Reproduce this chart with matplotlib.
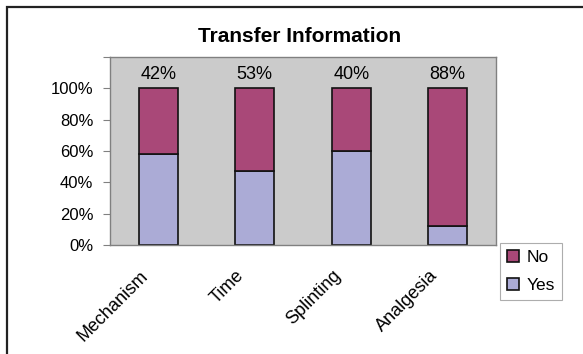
#!/usr/bin/env python3
"""Transfer Information: 100% stacked Yes/No bars per item."""
import numpy as np
import matplotlib
matplotlib.use("Agg")
import matplotlib.pyplot as plt
from matplotlib.patches import Rectangle
from matplotlib.transforms import ScaledTranslation

CATS = ["Mechanism", "Time", "Splinting", "Analgesia"]
YES = [58, 47, 60, 12]
NO = [42, 53, 40, 88]
NO_LABELS = ["42%", "53%", "40%", "88%"]
YTICKS = [0, 20, 40, 60, 80, 100, 120]
YTICK_LABELS = ["0%", "20%", "40%", "60%", "80%", "100%", ""]

plt.rcParams["font.family"] = ["Liberation Sans", "DejaVu Sans"]

fig = plt.figure(figsize=(5.83, 3.54), dpi=100)
ax = fig.add_axes([110/583, 1 - 245/354, 386/583, 188/354])

# outer chart frame (cut off on right/bottom like the source)
fig.patches.append(Rectangle((7/583, -0.05), 1.2, 1 - 7/354 + 0.05,
                             transform=fig.transFigure, fill=False,
                             ec="#222222", lw=1.6))

x = np.arange(len(CATS))
w = 0.4
ax.bar(x, YES, w, color="#ababd6", edgecolor="#111111", lw=1.2, label="Yes")
ax.bar(x, NO, w, bottom=YES, color="#a94878", edgecolor="#111111", lw=1.2, label="No")
for xi, y, n, lab in zip(x, YES, NO, NO_LABELS):
    ax.annotate(lab, (xi, y + n), xytext=(0, 4), textcoords="offset points",
                ha="center", va="bottom", fontsize=13)

ax.set_facecolor("#cbcbcb")
ax.set_xlim(-0.5, len(CATS) - 0.5)
ax.set_ylim(0, 120)
ax.set_yticks(YTICKS)
ax.set_yticklabels(YTICK_LABELS, fontsize=12)
ax.set_xticks(x)
ax.set_xticklabels(CATS, rotation=45, ha="right", fontsize=13)
ax.tick_params(axis="x", length=0, pad=16)
ax.tick_params(axis="y", length=5, color="#808080", pad=7)
for lbl in ax.get_xticklabels():
    lbl.set_transform(lbl.get_transform() + ScaledTranslation(-0.07, 0, fig.dpi_scale_trans))
for s in ax.spines.values():
    s.set_color("#808080")
    s.set_linewidth(1.0)

fig.text(300/583, 1 - 36/354, "Transfer Information", fontsize=15, fontweight="bold",
         ha="center", va="center")

h, l = ax.get_legend_handles_labels()
leg = fig.legend(h[::-1], l[::-1], loc="upper left", bbox_to_anchor=(500/583, 1 - 243/354),
                 fontsize=12.5, frameon=True, fancybox=False, handlelength=0.7,
                 handleheight=0.7, handletextpad=0.45, borderpad=0.4, labelspacing=0.75,
                 borderaxespad=0)
leg.get_frame().set_edgecolor("#999999")
leg.get_frame().set_linewidth(0.8)

fig.savefig("out.png", dpi=100)
